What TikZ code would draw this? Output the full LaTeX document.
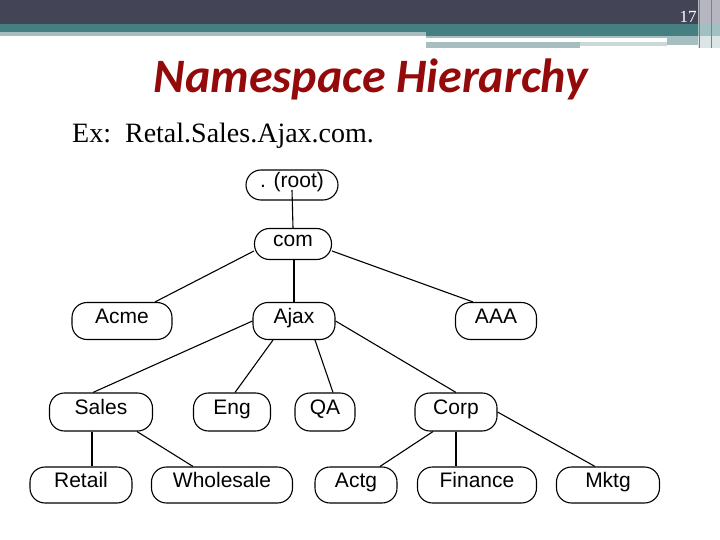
\documentclass[tikz,border=0pt]{standalone}
\usepackage{fontspec}
\setmainfont{Liberation Serif}
\newfontfamily\boxfont{Liberation Sans}
\newfontfamily\titlefont{Carlito}
\definecolor{hdrdark}{HTML}{434456}
\definecolor{hdrteal}{HTML}{457F82}
\definecolor{hdrlight}{HTML}{A6BEC0}
\definecolor{hdrgray}{HTML}{B6B6C0}
\definecolor{titlered}{HTML}{940A0A}
\tikzset{
  dom/.style={draw, line width=1.1pt, rounded corners=15pt, inner sep=0pt,
    text height=15pt, text depth=10pt, font=\boxfont\fontsize{21}{24}\selectfont},
  link/.style={line width=1.1pt}
}

\begin{document}
\begin{tikzpicture}[x=1pt, y=-1pt]
\useasboundingbox (0,0) rectangle (720,540);

% slide header
\fill[hdrdark] (0,0) rectangle (698,24);
\fill[hdrteal] (0,24) rectangle (698,32);
\fill[hdrteal] (426,32) rectangle (698,36);
\fill[hdrlight] (0,32) rectangle (426,36);
\fill[hdrlight] (426,36) rectangle (698,38.5);
\fill[hdrlight] (667,38.5) rectangle (698,45);
\fill[hdrlight] (426,42) rectangle (580,48.5);
\fill[hdrlight!60] (580,42) rectangle (667,46);
\fill[hdrgray] (698,0) rectangle (720,24);
\fill[hdrteal!50] (698,24) rectangle (720,36);
\fill[hdrlight!40] (698,36) rectangle (720,48);
\draw[gray, line width=0.8pt] (699,0) -- (699,48) (711,0) -- (711,48);
\node[text=white, font=\fontsize{17}{17}\selectfont] (pagenum) at (688,17) {17};

% title and example
\node[anchor=base, text=titlered, font=\titlefont\bfseries\itshape\fontsize{48}{54}\selectfont]
  (title) at (371,93) {Namespace Hierarchy};
\node[anchor=base west, inner sep=0pt, font=\fontsize{28}{32}\selectfont]
  (example) at (72,143) {Ex:\ \ Retal.Sales.Ajax.com.};

% domain tree
\node[dom, minimum width=92pt, minimum height=30pt] (root) at (292,185) {. (root)};
\node[dom, minimum width=77pt, minimum height=31pt] (com) at (293,244) {com};

\node[dom, minimum width=100pt, minimum height=37pt] (acme) at (122,321) {Acme};
\node[dom, minimum width=82pt, minimum height=37pt] (ajax) at (294,321) {Ajax};
\node[dom, minimum width=81pt, minimum height=37pt] (aaa) at (496,321) {AAA};

\node[dom, minimum width=103pt, minimum height=38pt] (sales) at (101,412) {Sales};
\node[dom, minimum width=77pt, minimum height=38pt] (eng) at (232,412) {Eng};
\node[dom, minimum width=60pt, minimum height=38pt] (qa) at (325,412) {QA};
\node[dom, minimum width=82pt, minimum height=38pt] (corp) at (456,412) {Corp};

\node[dom, minimum width=102pt, minimum height=36pt] (retail) at (81,485) {Retail};
\node[dom, minimum width=141pt, minimum height=36pt] (wholesale) at (222,485) {Wholesale};
\node[dom, minimum width=82pt, minimum height=36pt] (actg) at (356,485) {Actg};
\node[dom, minimum width=119pt, minimum height=36pt] (finance) at (477,485) {Finance};
\node[dom, minimum width=103pt, minimum height=36pt] (mktg) at (608,485) {Mktg};

\draw[link] (root.center) ++(0,5) -- (com.north);
\draw[link] ([yshift=-7pt]com.west) -- ([xshift=33pt]acme.north);
\draw[link] (com.south -| ajax.north) -- (ajax.north);
\draw[link] ([yshift=-7pt]com.east) -- ([xshift=-23pt]aaa.north);

\draw[link] (ajax.west) -- ([xshift=-8pt]sales.north);
\draw[link] ([xshift=-21pt]ajax.south) -- ([xshift=3pt]eng.north);
\draw[link] ([xshift=21pt]ajax.south) -- ([xshift=8pt]qa.north);
\draw[link] (ajax.east) -- (corp.north);

\draw[link] ([xshift=-9pt]sales.south) -- ([xshift=11pt]retail.north);
\draw[link] ([xshift=36pt]sales.south) -- ([xshift=-29pt]wholesale.north);
\draw[link] ([xshift=-23pt]corp.south) -- ([xshift=24pt]actg.north);
\draw[link] (corp.south) -- ([xshift=-21pt]finance.north);
\draw[link] (corp.east) -- ([xshift=-13pt]mktg.north);
\end{tikzpicture}
\end{document}
